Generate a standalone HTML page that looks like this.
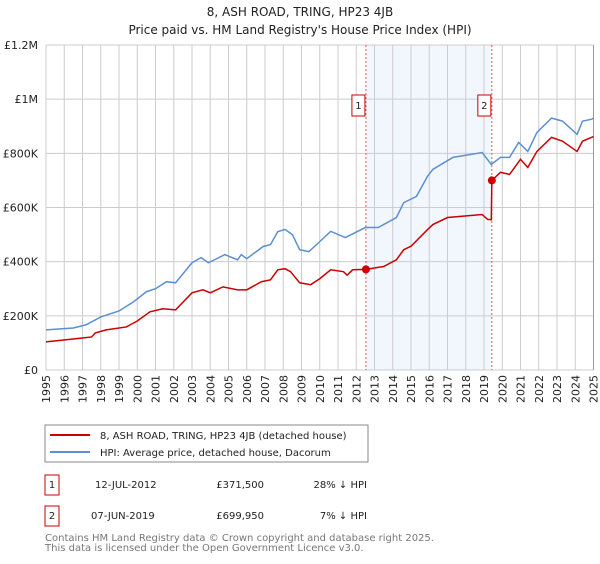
<!DOCTYPE html>
<html><head><meta charset="utf-8"><style>
body{margin:0;background:#fff;font-family:"DejaVu Sans","Liberation Sans",sans-serif;}
svg text{font-family:"DejaVu Sans","Liberation Sans",sans-serif;}
</style></head><body>
<svg id="c" width="600" height="560" viewBox="0 0 600 560" xmlns="http://www.w3.org/2000/svg">
<text x="300" y="16" text-anchor="middle" font-size="12" fill="#222">8, ASH ROAD, TRING, HP23 4JB</text>
<text x="300" y="34" text-anchor="middle" font-size="12" fill="#222">Price paid vs. HM Land Registry's House Price Index (HPI)</text>
<g id="plot"></g>
<g>
<rect x="45" y="425" width="323" height="37" fill="#fff" stroke="#888"/>
<line x1="50" y1="435" x2="90" y2="435" stroke="#cc0000" stroke-width="2"/>
<text x="100" y="439" font-size="10" fill="#222">8, ASH ROAD, TRING, HP23 4JB (detached house)</text>
<line x1="50" y1="452" x2="90" y2="452" stroke="#5b8fd4" stroke-width="2"/>
<text x="100" y="456" font-size="10" fill="#222">HPI: Average price, detached house, Dacorum</text>
</g>
<g font-size="10" fill="#222">
<rect x="45" y="475" width="14" height="20" fill="#fff" stroke="#cc0000"/>
<text x="52" y="488" text-anchor="middle">1</text>
<text x="95" y="488">12-JUL-2012</text>
<text x="264" y="488" text-anchor="end">£371,500</text>
<text x="367" y="488" text-anchor="end">28% ↓ HPI</text>
<rect x="45" y="506" width="14" height="20" fill="#fff" stroke="#cc0000"/>
<text x="52" y="519" text-anchor="middle">2</text>
<text x="91" y="519">07-JUN-2019</text>
<text x="264" y="519" text-anchor="end">£699,950</text>
<text x="367" y="519" text-anchor="end">7% ↓ HPI</text>
</g>
<text x="45" y="541" font-size="10" fill="#777">Contains HM Land Registry data © Crown copyright and database right 2025.</text>
<text x="45" y="551" font-size="10" fill="#777">This data is licensed under the Open Government Licence v3.0.</text>
</svg>
<script>
const hpiYears=[1995,1996.5,1997.2,1998,1999,1999.8,2000.5,2001,2001.6,2002.1,2003,2003.5,2003.9,2004.8,2005.5,2005.7,2006,2006.9,2007.3,2007.7,2008.1,2008.5,2008.9,2009.4,2010,2010.6,2011.4,2012.5,2013.2,2014.2,2014.6,2015.3,2015.9,2016.2,2017.3,2018.9,2019.4,2019.9,2020.4,2020.9,2021.4,2021.9,2022.7,2023.3,2024.1,2024.4,2024.9,2025];
const hpiValues=[148,155,167,196,218,252,289,300,326,322,396,415,396,426,407,426,411,456,463,511,519,500,444,437,474,512,489,526,526,563,618,641,715,741,785,803,759,785,785,840,807,877,930,919,870,919,926,930];
const priceYears=[1995,1997,1997.5,1997.7,1998.3,1999.4,2000,2000.7,2001.4,2002.1,2003,2003.6,2004,2004.7,2005.5,2006,2006.8,2007.3,2007.7,2008.1,2008.4,2008.9,2009.5,2010,2010.6,2011.3,2011.5,2011.8,2012.53,2013.5,2014.2,2014.6,2015,2015.9,2016.2,2017,2018.9,2019.2,2019.4,2019.43,2019.9,2020.4,2021,2021.4,2021.9,2022.7,2023.3,2024.1,2024.4,2024.9,2025];
const priceValues=[104,118,122,137,148,159,181,215,226,222,285,296,285,307,296,296,326,333,370,374,363,322,315,337,370,363,350,370,371.5,382,407,444,457,518,537,563,574,556,555,699.95,730,722,778,748,807,859,845,807,845,859,862];
const sales=[{t:2012.53,v:371.5,label:'1'},{t:2019.43,v:699.95,label:'2'}];
const yTicks=[0,200,400,600,800,1000,1200];
const yTickLabels=['£0','£200K','£400K','£600K','£800K','£1M','£1.2M'];
const xTicks=[1995,1996,1997,1998,1999,2000,2001,2002,2003,2004,2005,2006,2007,2008,2009,2010,2011,2012,2013,2014,2015,2016,2017,2018,2019,2020,2021,2022,2023,2024,2025];

const NS='http://www.w3.org/2000/svg';
const L=46,R=593.5,T=45,B=370;
const x=t=>L+(t-1995)*(R-L)/30;
const y=v=>B-v*(B-T)/1200;
const g=document.getElementById('plot');
function mk(tag,attrs,parent){const e=document.createElementNS(NS,tag);for(const k in attrs)e.setAttribute(k,attrs[k]);(parent||g).appendChild(e);return e;}

const bg=mk('rect',{x:L,y:T,width:R-L,height:B-T,fill:'#fff'});


const shade=mk('rect',{x:x(sales[0].t),y:T,width:x(sales[1].t)-x(sales[0].t),height:B-T,fill:'#f2f6fd'});


xTicks.forEach(t=>{
  const ln=mk('line',{x1:x(t),y1:T,x2:x(t),y2:B,stroke:'#ccc','stroke-width':1});
  
  
  const tx=mk('text',{x:0,y:0,'font-size':11,fill:'#222','text-anchor':'end',transform:`translate(${x(t)+4},375) rotate(-90)`});
  tx.textContent=t;
  
  
});
yTicks.forEach((v,i)=>{
  const ln=mk('line',{x1:L,y1:y(v),x2:R,y2:y(v),stroke:'#ccc','stroke-width':1});
  
  
  const tx=mk('text',{x:38,y:y(v)+4,'font-size':11,fill:'#222','text-anchor':'end'});
  tx.textContent=yTickLabels[i];
  
  
});
const rb=mk('line',{x1:R,y1:T,x2:R,y2:B,stroke:'#999','stroke-width':1});


sales.forEach(s=>{
  const ln=mk('line',{x1:x(s.t),y1:T,x2:x(s.t),y2:B,stroke:'#e85555','stroke-width':1,'stroke-dasharray':'2,2'});
  
  
});
const hp=mk('polyline',{points:hpiYears.map((t,i)=>x(t)+','+y(hpiValues[i])).join(' '),fill:'none',stroke:'#5b8fd4','stroke-width':1.5});


const pp=mk('polyline',{points:priceYears.map((t,i)=>x(t)+','+y(priceValues[i])).join(' '),fill:'none',stroke:'#cc0000','stroke-width':1.5});


sales.forEach(s=>{
  const c=mk('circle',{cx:x(s.t),cy:y(s.v),r:4,fill:'#cc0000'});
  
  
  const bx=mk('rect',{x:x(s.t)-14,y:95,width:13,height:21,fill:'#fff',stroke:'#cc0000'});
  
  
  const tx=mk('text',{x:x(s.t)-7.5,y:109,'font-size':10,fill:'#222','text-anchor':'middle'});
  tx.textContent=s.label;
  
  
});
</script>
</body></html>
